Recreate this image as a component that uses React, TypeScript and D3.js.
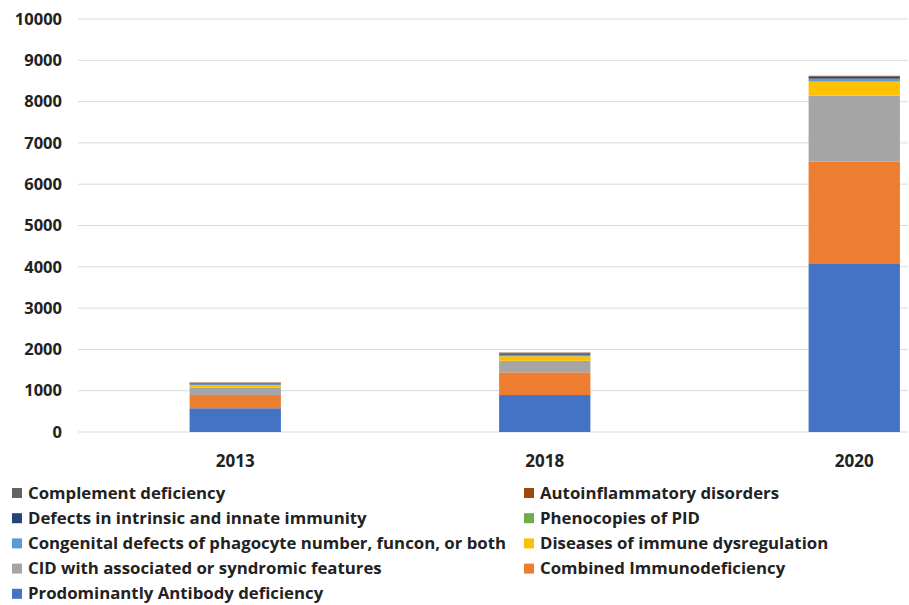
import React from "react";
import * as d3 from "d3";

const years = ["2013", "2018", "2020"];

const seriesNames = [
  "Prodominantly Antibody deficiency",
  "Combined Immunodeficiency",
  "CID with associated or syndromic features",
  "Diseases of immune dysregulation",
  "Congenital defects of phagocyte number, funcon, or both",
  "Phenocopies of PID",
  "Defects in intrinsic and innate immunity",
  "Autoinflammatory disorders",
  "Complement deficiency",
];

const seriesColors = [
  "#4472C4",
  "#ED7D31",
  "#A5A5A5",
  "#FFC000",
  "#5B9BD5",
  "#70AD47",
  "#264478",
  "#9E480E",
  "#636363",
];

// values per series, in the order of the years
const antibody = [575, 895, 4085];
const combined = [320, 550, 2460];
const cid = [185, 280, 1600];
const dysregulation = [55, 110, 340];
const phagocyte = [20, 30, 65];
const phenocopies = [0, 5, 5];
const innate = [20, 25, 55];
const autoinflammatory = [20, 25, 10];
const complement = [5, 5, 5];

const seriesValues = [
  antibody,
  combined,
  cid,
  dysregulation,
  phagocyte,
  phenocopies,
  innate,
  autoinflammatory,
  complement,
];

const yTicks = [0, 1000, 2000, 3000, 4000, 5000, 6000, 7000, 8000, 9000, 10000];

// legend reading order (two columns, row by row)
const legendOrder = [8, 7, 6, 5, 4, 3, 2, 1, 0];

const W = 909;
const H = 605;
const FONT = "'Open Sans', Lato, sans-serif";

export default function App() {
  const plotLeft = 78;
  const plotRight = 908;
  const y = d3.scaleLinear().domain([0, 10000]).range([432, 19]);
  const x = d3
    .scaleBand()
    .domain(years)
    .range([80.5, 1009])
    .paddingInner(0.705)
    .paddingOuter(0.3525);

  const table = years.map((yr, i) => {
    const row: Record<string, number | string> = { year: yr };
    seriesNames.forEach((n, s) => (row[n] = seriesValues[s][i]));
    return row;
  });
  const stacked = d3.stack<any>().keys(seriesNames)(table);

  return (
    <svg
      width={W}
      height={H}
      style={{ position: "absolute", left: 0, top: 0, background: "#fff" }}
      fontFamily={FONT}
    >
      <rect width={W} height={H} fill="#fff" />
      {yTicks.map((t) => (
        <g key={t}>
          <line
            x1={plotLeft}
            x2={plotRight}
            y1={y(t)}
            y2={y(t)}
            stroke="#d9d9d9"
            strokeWidth={1}
          />
          <text
            x={62}
            y={y(t)}
            dy="0.35em"
            textAnchor="end"
            fontSize={16.5}
            fontWeight="bold"
            fill="#222"
          >
            {t}
          </text>
        </g>
      ))}
      {stacked.map((layer, s) => (
        <g key={layer.key} fill={seriesColors[s]}>
          {layer.map((d, i) => (
            <rect
              key={years[i]}
              x={x(years[i])}
              width={x.bandwidth()}
              y={y(d[1])}
              height={Math.max(0, y(d[0]) - y(d[1]))}
            />
          ))}
        </g>
      ))}
      {years.map((yr) => (
        <text
          key={yr}
          x={(x(yr) as number) + x.bandwidth() / 2}
          y={461}
          dy="0.35em"
          textAnchor="middle"
          fontSize={17}
          fontWeight="bold"
          fill="#222"
        >
          {yr}
        </text>
      ))}
      {legendOrder.map((s, k) => {
        const col = k % 2;
        const row = Math.floor(k / 2);
        const lx = col === 0 ? 12 : 524;
        const ly = 493 + row * 25.2;
        return (
          <g key={seriesNames[s]}>
            <rect x={lx} y={ly - 5} width={10} height={10} fill={seriesColors[s]} />
            <text
              x={lx + 16}
              y={ly}
              dy="0.33em"
              fontSize={16.8}
              fontWeight="bold"
              fill="#222"
            >
              {seriesNames[s]}
            </text>
          </g>
        );
      })}
    </svg>
  );
}
